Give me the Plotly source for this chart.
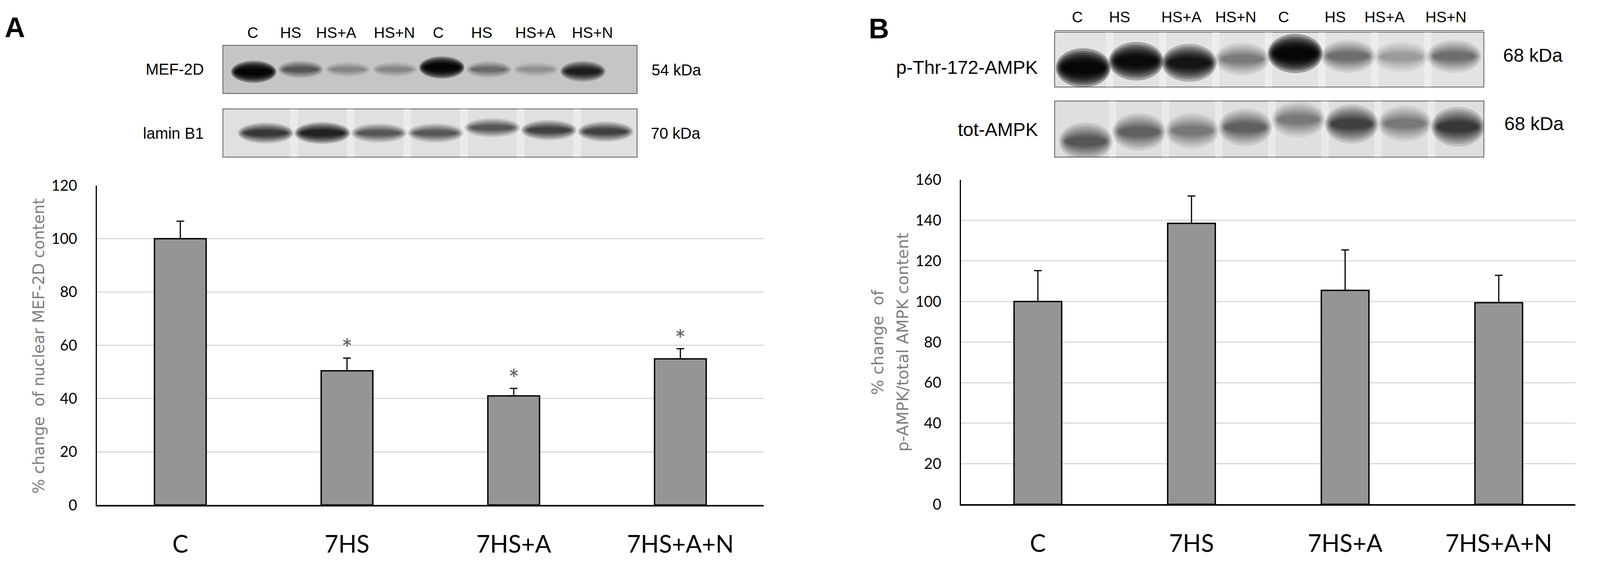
import plotly.graph_objects as go

# reference canvas (coordinates below are read in these pixels)
W, H = 4257, 1479
# the browser viewport is 4096 css px wide; the figure fills it
FIG_W, FIG_H = 4096, 1479

# ---------------- data ----------------
categories = ["C", "7HS", "7HS+A", "7HS+A+N"]

mef2d_mean = [100.0, 50.4, 41.0, 54.9]
mef2d_err = [6.6, 4.8, 2.8, 3.8]
mef2d_signif = [False, True, True, True]

ampk_mean = [100.0, 138.5, 105.5, 99.4]
ampk_err = [15.2, 13.5, 19.9, 13.5]

lane_labels = ["C", "HS", "HS+A", "HS+N", "C", "HS", "HS+A", "HS+N"]

# western blot band densities (0..1) and relative mobility (0 bottom .. 1 top)
mef2d_band = [1.0, 0.55, 0.3, 0.3, 1.0, 0.45, 0.25, 0.85]
mef2d_mob = [0.45, 0.50, 0.50, 0.50, 0.54, 0.50, 0.50, 0.46]
lamin_band = [0.75, 0.85, 0.6, 0.6, 0.6, 0.7, 0.7]
lamin_mob = [0.50, 0.50, 0.50, 0.50, 0.61, 0.56, 0.53]
pthr_band = [1.0, 0.95, 0.9, 0.45, 1.0, 0.5, 0.3, 0.5]
pthr_mob = [0.35, 0.47, 0.44, 0.51, 0.61, 0.56, 0.55, 0.56]
tot_band = [0.6, 0.55, 0.45, 0.55, 0.45, 0.7, 0.45, 0.75]
tot_mob = [0.28, 0.45, 0.47, 0.53, 0.67, 0.59, 0.60, 0.54]


def X(px):
    return px / W


def Y(py):
    return 1 - py / H


BAR_COLOR = "#959595"
fig = go.Figure()

# ---------------- bar charts ----------------
fig.add_trace(go.Bar(
    x=categories, y=mef2d_mean, width=0.31,
    marker=dict(color=BAR_COLOR, line=dict(color="black", width=3.5)),
    error_y=dict(type="data", array=mef2d_err, arrayminus=[0] * len(mef2d_err),
                 symmetric=False, color="black", thickness=3, width=10),
    xaxis="x", yaxis="y", showlegend=False))

fig.add_trace(go.Bar(
    x=categories, y=ampk_mean, width=0.31,
    marker=dict(color=BAR_COLOR, line=dict(color="black", width=3.5)),
    error_y=dict(type="data", array=ampk_err, arrayminus=[0] * len(ampk_err),
                 symmetric=False, color="black", thickness=3, width=10),
    xaxis="x2", yaxis="y2", showlegend=False))

# invisible traces so blot axes exist
for i in range(3, 7):
    fig.add_trace(go.Scatter(x=[], y=[], xaxis=f"x{i}", yaxis=f"y{i}", showlegend=False))

tick_font = dict(family="Lato", size=38, color="black")
cat_font = dict(family="Lato", size=61, color="black")

layout = dict(
    width=FIG_W, height=FIG_H, autosize=False,
    margin=dict(l=0, r=0, t=0, b=0),
    paper_bgcolor="white", plot_bgcolor="rgba(0,0,0,0)",
    showlegend=False,
    xaxis=dict(domain=[X(258), X(2032)], anchor="y", showline=True, linecolor="black",
               linewidth=4, showgrid=False, ticks="", tickfont=cat_font,
               ticklabelstandoff=44, zeroline=False),
    yaxis=dict(domain=[Y(1308), Y(464)], anchor="x", range=[0, 120], dtick=20,
               showline=True, linecolor="black", linewidth=3, showgrid=True,
               gridcolor="#d9d9d9", gridwidth=3, zeroline=False, ticks="",
               tickfont=tick_font, ticklabelstandoff=40),
    xaxis2=dict(domain=[X(2557), X(4192)], anchor="y2", showline=True, linecolor="black",
                linewidth=4, showgrid=False, ticks="", tickfont=cat_font,
                ticklabelstandoff=44, zeroline=False),
    yaxis2=dict(domain=[Y(1306), Y(449)], anchor="x2", range=[0, 160], dtick=20,
                showline=True, linecolor="black", linewidth=3, showgrid=True,
                gridcolor="#d9d9d9", gridwidth=3, zeroline=False, ticks="",
                tickfont=tick_font, ticklabelstandoff=40),
)

# blot panels: (axis index, box px (x0,x1,y0,y1), x range, bg colour, bands, mobility, band width, blur)
blots = [
    (3, (593, 1695, 94, 221), [0.345, 9.151], "#c5c5c5", mef2d_band, mef2d_mob, 0.78, 0.11),
    (4, (593, 1695, 262, 389), [0.244, 7.557], "#e0e0e0", lamin_band, lamin_mob, 0.8, 0.12),
    (5, (2806, 3948, 59, 204), [0.461, 8.56], "#e3e3e3", pthr_band, pthr_mob, 0.84, 0.22),
    (6, (2806, 3948, 241, 389), [0.413, 8.489], "#dfdfdf", tot_band, tot_mob, 0.82, 0.24),
]

blur_scales = [2.3, 2.0, 1.75, 1.5, 1.28, 1.08, 0.9, 0.72, 0.55]

shapes = []
for idx, (x0, x1, y0, y1), xr, bg, bands, mobs, bw, thick in blots:
    layout[f"xaxis{idx}"] = dict(domain=[X(x0), X(x1)], anchor=f"y{idx}", range=xr,
                                 visible=False)
    layout[f"yaxis{idx}"] = dict(domain=[Y(y1), Y(y0)], anchor=f"x{idx}", range=[0, 1],
                                 visible=False)
    shapes.append(dict(type="rect", xref=f"x{idx} domain", yref=f"y{idx} domain",
                       x0=0, x1=1, y0=0, y1=1, fillcolor=bg, layer="below",
                       line=dict(color="#5a5a5a", width=2)))
    # lighter gaps between lanes
    if idx != 3:
        for k in range(len(bands) - 1):
            g = k + 1.5
            shapes.append(dict(type="rect", xref=f"x{idx}", yref=f"y{idx} domain",
                               x0=g - 0.07, x1=g + 0.07, y0=0, y1=1,
                               fillcolor="white", opacity=0.35, line=dict(width=0),
                               layer="below"))
    # bands: stacked soft ellipses per lane
    for k, (dens, mob) in enumerate(zip(bands, mobs)):
        lane = k + 1
        d = min(dens, 0.97)
        n = len(blur_scales)
        a = 1 - (1 - d) ** (1 / n)
        hh0 = (thick + 0.09 * dens) / 2
        for s in blur_scales:
            hw = bw / 2 * (1 + (s - 1) * 0.18)
            hh = hh0 * s
            shapes.append(dict(type="circle", xref=f"x{idx}", yref=f"y{idx}",
                               x0=lane - hw, x1=lane + hw, y0=mob - hh, y1=mob + hh,
                               fillcolor="black", opacity=a, line=dict(width=0)))

# extra top line on p-Thr blot
shapes.append(dict(type="line", xref="paper", yref="paper", x0=X(2806), x1=X(3948),
                   y0=Y(55), y1=Y(55), line=dict(color="#5a5a5a", width=2)))

layout["shapes"] = shapes

# ---------------- annotations ----------------
ann = []
arial = "Liberation Sans"


def label(text, px, py, size, xanchor="center", family=arial, color="black", angle=0):
    ann.append(dict(text=text, x=X(px), y=Y(py), xref="paper", yref="paper",
                    xanchor=xanchor, yanchor="middle", showarrow=False, textangle=angle,
                    font=dict(family=family, size=size, color=color)))


label("<b>A</b>", 39, 46, 72)
label("<b>B</b>", 2338, 50, 72)

lane_px_A = [672, 773, 894, 1049, 1166, 1281, 1424, 1576]
lane_px_B = [2866, 2979, 3143, 3288, 3415, 3552, 3684, 3847]
for lab, px in zip(lane_labels, lane_px_A):
    label(lab, px, 60, 39)
for lab, px in zip(lane_labels, lane_px_B):
    label(lab, px, 19, 39)

label("MEF-2D", 545, 157, 40, "right")
label("lamin B1", 545, 326, 40, "right")
label("54 kDa", 1731, 159, 40, "left")
label("70 kDa", 1729, 326, 40, "left")
label("p-Thr-172-AMPK", 2764, 152, 48, "right")
label("tot-AMPK", 2764, 316, 48, "right")
label("68 kDa", 3997, 120, 48, "left")
label("68 kDa", 4000, 301, 48, "left")

label("% change\u00a0 of nuclear MEF-2D content", 103, 888, 40,
      family="DejaVu Sans", color="#7f7f7f", angle=-90)
label("% change\u00a0 of", 2335, 878, 41, family="DejaVu Sans", color="#7f7f7f", angle=-90)
label("p-AMPK/total AMPK content", 2402, 878, 41, family="DejaVu Sans", color="#7f7f7f",
      angle=-90)

# significance asterisks
for cat, m, e, s in zip(categories, mef2d_mean, mef2d_err, mef2d_signif):
    if s:
        ann.append(dict(text="*", x=cat, y=m + e + 6.5, xref="x", yref="y",
                        xanchor="center", yanchor="middle",
                        showarrow=False, yshift=-18,
                        font=dict(family="Lato", size=68, color="#595959")))

layout["annotations"] = ann
fig.update_layout(**layout)

post = ("document.documentElement.style.margin='0';document.body.style.margin='0';"
        "document.body.style.overflow='hidden';")
fig.write_html("out.html", post_script=post, config={"displayModeBar": False})
